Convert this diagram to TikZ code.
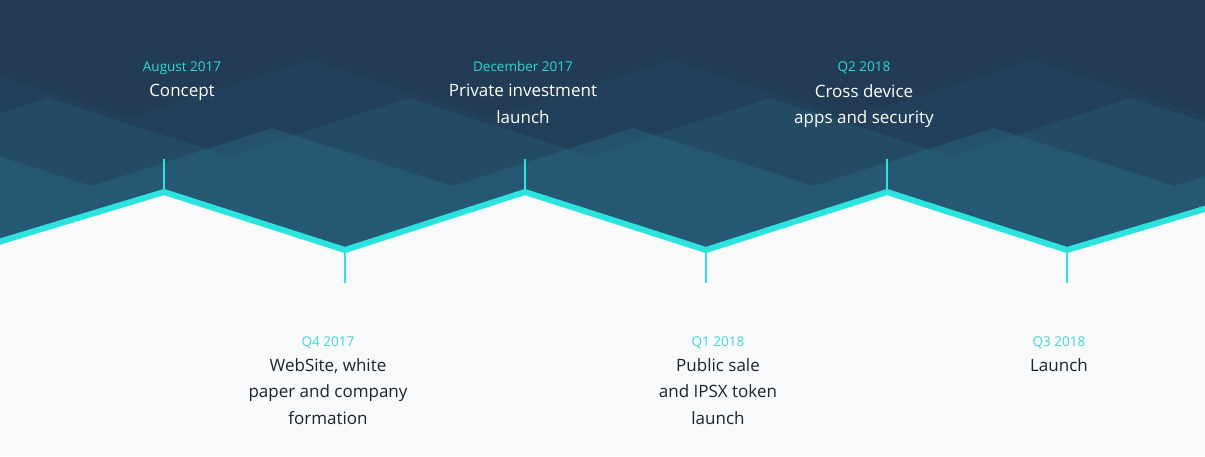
\documentclass[tikz,border=0pt]{standalone}
\usepackage{fontspec}
\setmainfont{Open Sans}
\definecolor{bgtop}{HTML}{223C55}
\definecolor{layer}{HTML}{286C88}
\definecolor{cyanline}{HTML}{2CE3DE}
\definecolor{paper}{HTML}{F7F9FA}
\definecolor{ink}{HTML}{1E2328}
\definecolor{datecol}{HTML}{2ED8D4}
\definecolor{datelight}{HTML}{45D6D2}
\begin{document}
\begin{tikzpicture}[x=1pt,y=-1pt,
  layerfill/.style={fill=layer,fill opacity=#1},
  mainline/.style={draw=cyanline,line width=6pt,line join=miter},
  tick/.style={draw=cyanline,line width=2pt},
  datelabel/.style={font=\fontsize{13.5}{16}\selectfont,inner sep=0pt,anchor=base},
  toptitle/.style={font=\fontsize{17}{26.5}\selectfont,text=white,align=center,inner sep=0pt,anchor=north},
  bottitle/.style={font=\fontsize{17}{26.5}\selectfont,text=ink,align=center,inner sep=0pt,anchor=north}]
\useasboundingbox (0,0) rectangle (1205,456);
\fill[bgtop] (0,0) rectangle (1205,456);
% translucent background bands
\fill[layerfill=0.09] (-51,60)--(129.5,118)--(310,60)--(490.5,118)--(671,60)--(851.5,118)--(1032,60)--(1212.5,118)--(1212.5,300)--(-51,300)--cycle;
\fill[layerfill=0.25] (-132.5,156)--(48,98)--(228.5,156)--(409,98)--(589.5,156)--(770,98)--(950.5,156)--(1131,98)--(1311.5,156)--(1311.5,300)--(-132.5,300)--cycle;
\fill[layerfill=0.4] (-89,128)--(91.5,186)--(272,128)--(452.5,186)--(633,128)--(813.5,186)--(994,128)--(1174.5,186)--(1355,128)--(1355,300)--(-89,300)--cycle;
% zigzag points
\coordinate (s) at (0,244.6);
\coordinate (p1) at (164,192);
\coordinate (v1) at (345,250);
\coordinate (p2) at (525,192);
\coordinate (v2) at (706,250);
\coordinate (p3) at (887,192);
\coordinate (v3) at (1067,250);
\coordinate (e) at (1205,205.8);
\fill[paper] (s)--(p1)--(v1)--(p2)--(v2)--(p3)--(v3)--(e)--(1205,456)--(0,456)--cycle;
% ticks
\coordinate (t1) at (164,159);
\coordinate (t2) at (345,283);
\coordinate (t3) at (525,159);
\coordinate (t4) at (706,283);
\coordinate (t5) at (887,159);
\coordinate (t6) at (1067,283);
\draw[tick] (t1)--(p1);
\draw[tick] (t3)--(p2);
\draw[tick] (t5)--(p3);
\draw[tick] (v1)--(t2);
\draw[tick] (v2)--(t4);
\draw[tick] (v3)--(t6);
\draw[mainline] ([xshift=-5pt,yshift=1.6pt]s)--(p1)--(v1)--(p2)--(v2)--(p3)--(v3)--([xshift=5pt,yshift=-1.6pt]e);
% labels
\node[datelabel,text=datecol] (d1) at (182,71) {August 2017};
\node[toptitle] (m1) at (182,84) {Concept};
\node[datelabel,text=datecol] (d3) at (523,71) {December 2017};
\node[toptitle] (m3) at (523,84) {Private investment\\launch};
\node[datelabel,text=datecol] (d5) at (864,71) {Q2 2018};
\node[toptitle] (m5) at (864,84) {Cross device\\apps and security};
\node[datelabel,text=datelight] (d2) at (328,346) {Q4 2017};
\node[bottitle] (m2) at (328,358) {WebSite, white\\paper and company\\formation};
\node[datelabel,text=datelight] (d4) at (718,346) {Q1 2018};
\node[bottitle] (m4) at (718,358) {Public sale\\and IPSX token\\launch};
\node[datelabel,text=datelight] (d6) at (1059,346) {Q3 2018};
\node[bottitle] (m6) at (1059,358) {Launch};
\end{tikzpicture}
\end{document}
